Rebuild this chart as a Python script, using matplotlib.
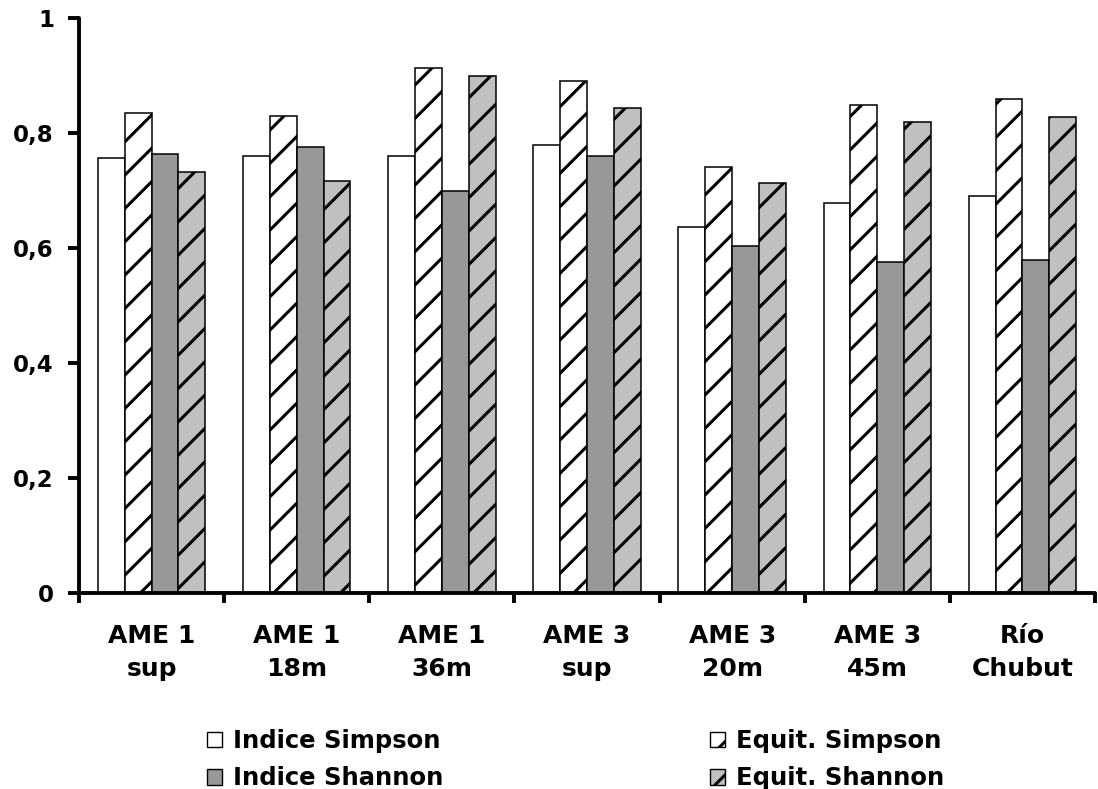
import matplotlib
matplotlib.use("Agg")
import matplotlib.pyplot as plt
import numpy as np
from matplotlib.patches import Patch
from matplotlib.ticker import FuncFormatter

sites = ["AME 1\nsup", "AME 1\n18m", "AME 1\n36m", "AME 3\nsup",
         "AME 3\n20m", "AME 3\n45m", "Río\nChubut"]

indice_simpson = [0.757, 0.760, 0.760, 0.780, 0.637, 0.679, 0.690]
equit_simpson = [0.834, 0.830, 0.913, 0.890, 0.741, 0.848, 0.859]
indice_shannon = [0.763, 0.775, 0.699, 0.760, 0.603, 0.575, 0.580]
equit_shannon = [0.733, 0.717, 0.899, 0.843, 0.713, 0.820, 0.828]

series = [
    ("Indice Simpson", indice_simpson, "white", ""),
    ("Equit. Simpson", equit_simpson, "white", "/"),
    ("Indice Shannon", indice_shannon, "#989898", ""),
    ("Equit. Shannon", equit_shannon, "#c0c0c0", "/"),
]

plt.rcParams["font.family"] = ["DejaVu Sans"]
plt.rcParams["font.weight"] = "bold"
plt.rcParams["hatch.linewidth"] = 2.2
plt.rcParams["hatch.color"] = "black"

W, H = 1098, 789
fig = plt.figure(figsize=(W / 100, H / 100), dpi=100)
ax = fig.add_axes([79 / W, 1 - 593 / H, 1016 / W, 575 / H])

x = np.arange(len(sites))
bw = 0.185
for i, (name, vals, color, hatch) in enumerate(series):
    ax.bar(x + (i - 1.5) * bw, vals, width=bw, color=color, hatch=hatch,
           edgecolor="black", linewidth=1.1, label=name)

ax.set_xlim(-0.5, len(sites) - 0.5)
ax.set_ylim(0, 1)

# category boundaries carry the tick marks, labels sit at the centres
ax.set_xticks(np.arange(len(sites) + 1) - 0.5)
ax.set_xticklabels([])
ax.set_xticks(x, minor=True)
ax.set_xticklabels(sites, minor=True, fontsize=18, fontweight="bold",
                   linespacing=1.5)
ax.tick_params(axis="x", which="minor", length=0, pad=22)
ax.tick_params(axis="x", which="major", length=7.5, width=2.8,
               direction="out")

ax.set_yticks(np.arange(0, 1.01, 0.2))
ax.yaxis.set_major_formatter(
    FuncFormatter(lambda v, _: "0" if v == 0 else ("1" if v == 1 else f"{v:.1f}".replace(".", ","))))
ax.tick_params(axis="y", length=8, width=2.8, direction="out", pad=10,
               labelsize=16.5)
for lab in ax.get_yticklabels():
    lab.set_fontweight("bold")

for side in ("top", "right"):
    ax.spines[side].set_visible(False)
for side in ("left", "bottom"):
    ax.spines[side].set_linewidth(2.8)
    ax.spines[side].set_capstyle("round")

handles = [Patch(facecolor=c, edgecolor="black", hatch=h, linewidth=1.0, label=n)
           for n, _, c, h in series]
legend_kw = dict(frameon=False, handlelength=0.6, handleheight=0.6,
                 handletextpad=0.45, labelspacing=0.55,
                 borderpad=0, borderaxespad=0, loc="upper left",
                 prop={"weight": "bold", "size": 17.5})
fig.legend(handles=[handles[0], handles[2]],
           bbox_to_anchor=(207 / W, 1 - 729 / H), **legend_kw)
fig.legend(handles=[handles[1], handles[3]],
           bbox_to_anchor=(710 / W, 1 - 729 / H), **legend_kw)

fig.savefig("out.png", dpi=100, facecolor="white")
